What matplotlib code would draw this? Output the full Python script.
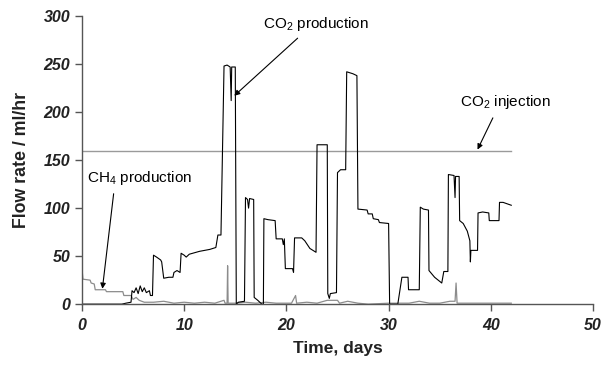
import matplotlib
matplotlib.use('Agg')
import matplotlib.pyplot as plt

plt.rcParams['font.family'] = ['Liberation Sans', 'DejaVu Sans']
plt.rcParams['mathtext.fontset'] = 'custom'
plt.rcParams['mathtext.rm'] = 'Liberation Sans'

# CO2 production (black) as (day, ml/hr) breakpoints
co2_days = [0, 3.9, 4.3, 4.8, 4.9, 5.1, 5.3, 5.5, 5.7, 5.9, 6.1, 6.3, 6.6, 6.7, 6.9,
            7.0, 7.3, 7.7, 7.8, 8.0, 8.5, 8.9, 9.0, 9.3, 9.6, 9.7, 10.0, 10.2, 10.5,
            11.5, 12.5, 13.1, 13.3, 13.6, 13.9, 14.2, 14.5, 14.6, 14.65, 15.0, 15.1,
            15.3, 15.9, 16.0, 16.2, 16.3, 16.4, 16.8, 16.85, 17.2, 17.6, 17.75, 17.8,
            18.2, 18.9, 19.0, 19.6, 19.7, 19.8, 19.9, 20.6, 20.7, 20.8, 21.5, 21.8,
            22.3, 22.9, 23.0, 24.0, 24.05, 24.2, 24.3, 24.9, 25.0, 25.3, 25.8, 25.9,
            26.5, 26.9, 27.0, 27.9, 28.0, 28.4, 28.5, 29.0, 29.1, 30.0, 30.1, 30.9,
            31.3, 31.9, 31.95, 33.0, 33.1, 33.4, 33.9, 33.95, 34.5, 35.2, 35.4, 35.8,
            35.85, 36.4, 36.5, 36.55, 36.9, 36.95, 37.3, 37.7, 37.95, 38.0, 38.05,
            38.7, 38.75, 39.2, 39.8, 39.85, 40.8, 40.85, 41.2, 42.0]
co2_flow = [0, 0, 1, 2, 14, 12, 17, 11, 19, 13, 17, 12, 14, 9, 9,
            51, 49, 46, 44, 27, 28, 28, 33, 35, 33, 53, 51, 49, 52,
            55, 57, 59, 72, 72, 248, 249, 247, 212, 247, 247, 0,
            2, 3, 111, 109, 100, 110, 109, 7, 4, 0, 0, 89,
            88, 87, 68, 68, 62, 68, 37, 37, 33, 69, 69, 66,
            58, 54, 166, 166, 11, 6, 11, 12, 137, 140, 140, 242,
            240, 238, 99, 98, 94, 94, 89, 88, 85, 84, 0, 0,
            28, 28, 15, 15, 101, 99, 98, 35, 28, 22, 34, 34,
            135, 134, 111, 133, 133, 87, 84, 76, 66, 44, 56,
            56, 95, 96, 95, 87, 87, 106, 106, 103]

# CH4 production (grey)
ch4_days = [0, 0.1, 0.8, 0.9, 1.2, 1.3, 2.3, 2.4, 4.0, 4.1, 4.8, 5.0, 5.3, 5.6, 6.1,
            7, 8, 9, 10, 11, 12, 13, 13.9, 14.0, 14.2, 14.25, 14.3, 15, 16, 17, 18,
            19, 20.5, 20.9, 21.0, 22, 23, 24, 25, 25.2, 26, 27, 28, 30, 31, 32, 33,
            34, 35, 36, 36.5, 36.6, 36.7, 38, 40, 42]
ch4_flow = [37, 26, 25, 22, 21, 15, 15, 13, 13, 9, 9, 5, 7, 4, 2,
            2, 3, 1, 2, 1, 2, 1, 4, 1, 1, 40, 1, 1, 2, 1, 2,
            1, 1, 9, 1, 2, 1, 4, 4, 1, 3, 1, 0, 1, 1, 1, 3,
            1, 1, 3, 3, 22, 1, 1, 1, 1]

# CO2 injection rate (constant)
inj_days = [0, 42]
inj_flow = [160, 160]

fig = plt.figure(figsize=(6.07, 3.66), dpi=100)
ax = fig.add_axes([0.135, 0.169, 0.842, 0.787])

ax.plot(inj_days, inj_flow, color='#9a9a9a', lw=1.0)
ax.plot(ch4_days, ch4_flow, color='#8c8c8c', lw=0.9)
ax.plot(co2_days, co2_flow, color='black', lw=0.8)

ax.set_xlim(0, 50)
ax.set_ylim(0, 300)
ax.set_xticks(range(0, 51, 10))
ax.set_yticks(range(0, 301, 50))
for s in ['top', 'right']:
    ax.spines[s].set_visible(False)
for s in ['left', 'bottom']:
    ax.spines[s].set_color('#555555')
    ax.spines[s].set_linewidth(1.0)
ax.tick_params(direction='out', length=5, color='#555555', width=1.0,
               labelsize=11.5)
ax.tick_params(axis='x', pad=5)
for lab in ax.get_xticklabels() + ax.get_yticklabels():
    lab.set_fontweight('bold')
    lab.set_fontstyle('italic')
    lab.set_color('#222222')

ax.set_xlabel('Time, days', fontsize=12.5, fontweight='bold', labelpad=6,
              color='#222222')
ax.set_ylabel('Flow rate / ml/hr', fontsize=12.8, fontweight='bold', labelpad=10,
              color='#222222')

arrow = dict(arrowstyle='-|>', color='black', lw=0.8, mutation_scale=8,
             shrinkA=0, shrinkB=0)
ax.annotate('', xy=(14.9, 217), xytext=(21.1, 277), arrowprops=arrow)
ax.text(22.9, 292, r'CO$_2$ production', fontsize=11, ha='center', va='center')
ax.annotate('', xy=(38.7, 161), xytext=(40.2, 194), arrowprops=arrow)
ax.text(41.4, 211, r'CO$_2$ injection', fontsize=11, ha='center', va='center')
ax.annotate('', xy=(2.0, 16), xytext=(3.1, 115), arrowprops=arrow)
ax.text(5.6, 131, r'CH$_4$ production', fontsize=11, ha='center', va='center')

fig.savefig('out.png', dpi=100)
